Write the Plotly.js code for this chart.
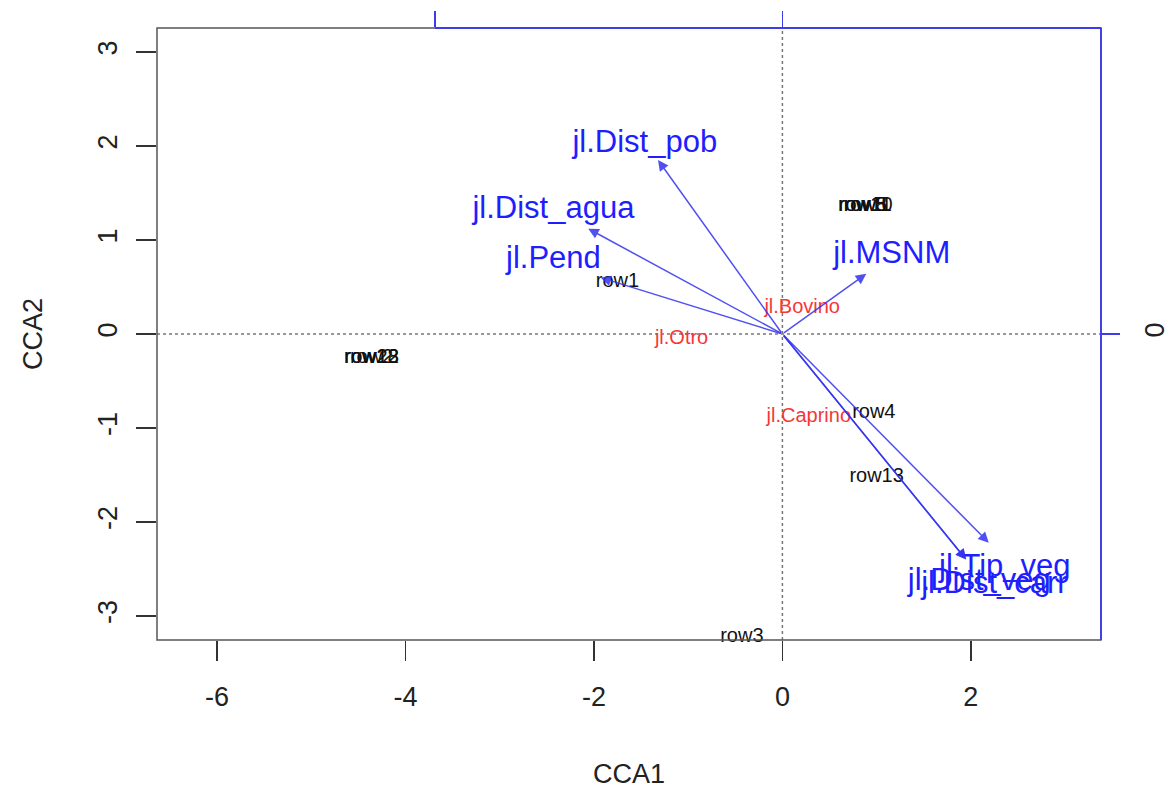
<!DOCTYPE html>
<html>
<head>
<meta charset="utf-8">
<script src="https://cdn.plot.ly/plotly-3.0.1.min.js"></script>
<style>html,body{margin:0;padding:0;background:#fff;}#chart{width:1169px;height:789px;}</style>
</head>
<body>
<div id="chart"></div>
<script>
// ---- data ----
const siteNames = ["row1", "row5", "row8", "row10", "row11", "row2", "row12", "row18", "row23", "row4", "row13", "row3"];
const siteX     = [-1.75, 0.88, 0.88, 0.88, 0.88, -4.36, -4.36, -4.36, -4.36, 0.97, 1.00, -0.43];
const siteY     = [0.55, 1.36, 1.36, 1.36, 1.36, -0.26, -0.26, -0.26, -0.26, -0.84, -1.52, -3.22];

const speciesNames = ["jl.Bovino", "jl.Otro", "jl.Caprino"];
const speciesX     = [0.21, -1.07, 0.28];
const speciesY     = [0.28, -0.05, -0.88];

const envNames  = ["jl.Dist_pob", "jl.Dist_agua", "jl.Pend", "jl.MSNM", "jl.Tip_veg", "jl.Dist_veg", "jl.Dist_carr"];
const envHeadX  = [-1.32, -2.06, -1.93, 0.89, 2.19, 1.95, 1.95];
const envHeadY  = [1.85, 1.12, 0.60, 0.64, -2.22, -2.40, -2.40];
const envLabelX = [-1.46, -2.43, -2.43, 1.16, 2.36, 2.09, 2.25];
const envLabelY = [2.02, 1.32, 0.78, 0.84, -2.49, -2.64, -2.67];

const xTicks = [-6, -4, -2, 0, 2];
const yTicks = [-3, -2, -1, 0, 1, 2, 3];
const arrowAxisTicks = [-1, 0];

// ---- layout helpers ----
const X_RANGE = [-6.637, 3.381];
const Y_RANGE = [-3.255, 3.255];
const ARROW_MUL = 3.687;
const FONT = "Liberation Sans, Arial, Helvetica, sans-serif";
const BLUE_LINE = "rgba(50,50,240,0.85)";
const BLUE_TEXT = "rgb(30,30,255)";
const RED_TEXT = "rgb(245,55,55)";

const traces = [
  {
    type: "scatter", mode: "text", x: siteX, y: siteY, text: siteNames,
    textposition: "middle center", cliponaxis: false, hoverinfo: "skip",
    textfont: {family: FONT, size: 20, color: "#111"}, showlegend: false
  },
  {
    type: "scatter", mode: "text", x: speciesX, y: speciesY, text: speciesNames,
    textposition: "middle center", cliponaxis: false, hoverinfo: "skip",
    textfont: {family: FONT, size: 20, color: RED_TEXT}, showlegend: false
  },
  {
    type: "scatter", mode: "text", x: envLabelX, y: envLabelY, text: envNames,
    textposition: "middle center", cliponaxis: false, hoverinfo: "skip",
    textfont: {family: FONT, size: 31, color: BLUE_TEXT}, showlegend: false
  }
];

const annotations = envNames.map((n, i) => ({
  x: envHeadX[i], y: envHeadY[i], xref: "x", yref: "y",
  ax: 0, ay: 0, axref: "x", ayref: "y",
  text: "", showarrow: true, arrowhead: 2, arrowsize: 1.4, arrowwidth: 1.5,
  arrowcolor: BLUE_LINE, standoff: 0, startstandoff: 0
}));

const x2Range = [X_RANGE[0] / ARROW_MUL, X_RANGE[1] / ARROW_MUL];
const y2Range = [Y_RANGE[0] / ARROW_MUL, Y_RANGE[1] / ARROW_MUL];

const shapes = [
  {type: "line", xref: "x", yref: "paper", x0: 0, x1: 0, y0: 0, y1: 1,
   line: {color: "#777", width: 1.5, dash: "dot"}, layer: "below"},
  {type: "line", xref: "paper", yref: "y", x0: 0, x1: 1, y0: 0, y1: 0,
   line: {color: "#777", width: 1.5, dash: "dot"}, layer: "below"},
  {type: "rect", xref: "paper", yref: "paper", x0: 0, x1: 1, y0: 0, y1: 1,
   line: {color: "#555", width: 1.5}},
  {type: "line", xref: "x2", yref: "paper", x0: arrowAxisTicks[0], x1: x2Range[1], y0: 1, y1: 1,
   line: {color: "rgb(60,60,235)", width: 1.8}},
  {type: "line", xref: "paper", yref: "paper", x0: 1, x1: 1, y0: 0, y1: 1,
   line: {color: "rgb(60,60,235)", width: 1.8}}
];

const layout = {
  width: 1169, height: 789,
  margin: {l: 157, r: 68, t: 28, b: 149, pad: 0},
  paper_bgcolor: "#fff", plot_bgcolor: "#fff",
  showlegend: false,
  font: {family: FONT, color: "#222"},
  xaxis: {
    range: X_RANGE, showgrid: false, zeroline: false, showline: false,
    tickmode: "array", tickvals: xTicks, ticktext: xTicks.map(String),
    ticks: "outside", ticklen: 20, tickwidth: 1.5, tickcolor: "#333",
    ticklabelstandoff: 13,
    tickfont: {family: FONT, size: 27, color: "#222"},
    title: {text: "CCA1", font: {family: FONT, size: 27, color: "#222"}, standoff: 53},
    automargin: false
  },
  yaxis: {
    range: Y_RANGE, showgrid: false, zeroline: false, showline: false,
    tickmode: "array", tickvals: yTicks, ticktext: yTicks.map(String),
    ticks: "outside", ticklen: 20, tickwidth: 1.5, tickcolor: "#333",
    tickangle: -90, ticklabelstandoff: 8,
    tickfont: {family: FONT, size: 27, color: "#222"},
    title: {text: "CCA2", font: {family: FONT, size: 27, color: "#222"}, standoff: 42},
    automargin: false
  },
  xaxis2: {
    overlaying: "x", side: "top", range: x2Range, showgrid: false, zeroline: false,
    showline: false, tickmode: "array", tickvals: arrowAxisTicks, ticks: "outside",
    ticklen: 16, tickwidth: 1.8, tickcolor: "rgb(60,60,235)", showticklabels: false,
    automargin: false
  },
  yaxis2: {
    overlaying: "y", side: "right", range: y2Range, showgrid: false, zeroline: false,
    showline: false, tickmode: "array", tickvals: [0], ticktext: ["0"], ticks: "outside",
    ticklen: 18, tickwidth: 1.8, tickcolor: "rgb(60,60,235)", tickangle: -90,
    ticklabelstandoff: 12,
    tickfont: {family: FONT, size: 27, color: "#222"}, automargin: false
  },
  shapes: shapes,
  annotations: annotations
};

traces.push({type: "scatter", mode: "markers", x: [0], y: [0], xaxis: "x2", yaxis: "y2",
  marker: {opacity: 0}, hoverinfo: "skip", showlegend: false});

Plotly.newPlot("chart", traces, layout, {staticPlot: true, displayModeBar: false});
</script>
</body>
</html>
